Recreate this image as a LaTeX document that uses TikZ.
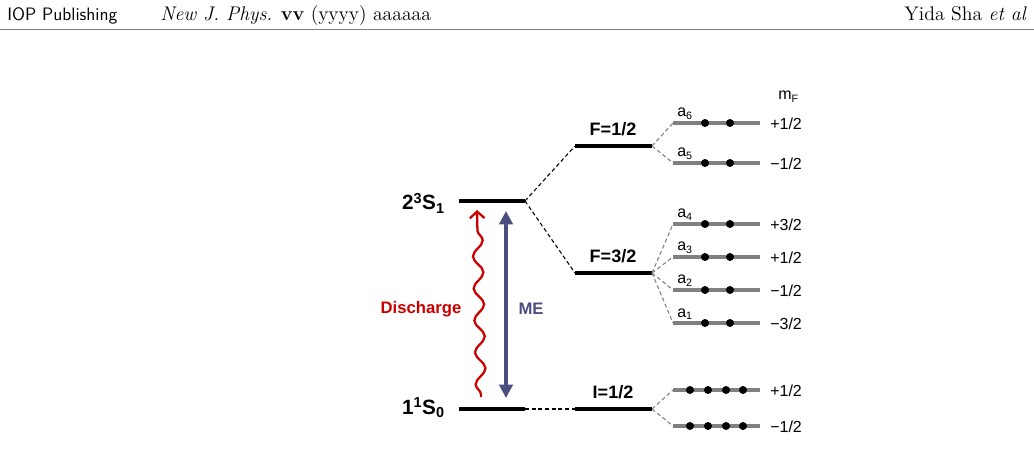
\documentclass[tikz,border=0pt]{standalone}
\usepackage{fontspec}
\newfontfamily\arial{Liberation Sans}
\usepackage{xcolor}
\usetikzlibrary{arrows.meta, positioning, decorations.pathmorphing}

\definecolor{dischred}{RGB}{204,0,0}
\definecolor{mecol}{RGB}{76,78,128}

\begin{document}
\begin{tikzpicture}[x=0.75pt, y=-0.75pt,
      level/.style={line width=3pt},
      sub/.style={line width=2.5pt, gray},
      link/.style={dash pattern=on 3pt off 2pt, line width=0.8pt},
      glink/.style={link, gray},
      atom/.style={circle, fill, inner sep=0pt, minimum size=6pt},
      term/.style={font=\arial\bfseries\fontsize{15.5}{18}\selectfont,
                   anchor=base east, inner sep=0pt},
      hfs/.style={font=\arial\bfseries\fontsize{13.5}{16}\selectfont,
                  anchor=base, inner sep=0pt},
      small/.style={font=\arial\fontsize{12}{14}\selectfont, inner sep=0pt},
      head/.style={font=\fontsize{14.8}{17}\selectfont, inner sep=0pt}
    ]
    \useasboundingbox (0,0) rectangle (1034,466);

    % running head
    \node[head, anchor=base west] (pub) at (7,21)
      {\sffamily\fontsize{13.5}{16}\selectfont IOP Publishing};
    \node[head, anchor=base west] (jour) at (160,21)
      {\textit{New J. Phys.} \textbf{vv} (yyyy) aaaaaa};
    \node[head, anchor=base east] (auth) at (1027,21) {Yida Sha \textit{et al}};
    \draw[gray, line width=0.5pt] (0,29) -- (1034,29);

    % fine structure levels
    \coordinate (tripL) at (459,201);
    \coordinate (tripR) at (525,201);
    \coordinate (gndL) at (459,409);
    \coordinate (gndR) at (525,409);
    \coordinate (fhalfL) at (575,146);
    \coordinate (fhalfR) at (652,146);
    \coordinate (fthreeL) at (575,273);
    \coordinate (fthreeR) at (652,273);
    \coordinate (ihalfL) at (575,409);
    \coordinate (ihalfR) at (652,409);

    \draw[level] (tripL) -- (tripR);
    \draw[level] (gndL) -- (gndR);
    \draw[level] (fhalfL) -- (fhalfR);
    \draw[level] (fthreeL) -- (fthreeR);
    \draw[level] (ihalfL) -- (ihalfR);

    \draw[link] (tripR) -- (fhalfL);
    \draw[link] (tripR) -- (fthreeL);
    \draw[link] (gndR) -- (ihalfL);

    \node[term] (trip) at (445,210) {2\textsuperscript{3}S\textsubscript{1}};
    \node[term] (gnd) at (445,414) {1\textsuperscript{1}S\textsubscript{0}};
    \node[hfs] (fhalf) at (613,136) {F=1/2};
    \node[hfs] (fthree) at (613,263) {F=3/2};
    \node[hfs] (ihalf) at (613,398) {I=1/2};

    % excitation
    \coordinate (dBot) at (481,397);
    \coordinate (dTop) at (477,210);
    \draw[dischred, line width=1.7pt, -{Straight Barb[length=5pt, width=11pt]},
          decorate, decoration={snake, amplitude=3.8pt, segment length=24pt,
                                pre length=2pt, post length=5pt}]
      (dBot) -- (dTop);
    \node[font=\arial\bfseries\fontsize{12.5}{15}\selectfont, text=dischred]
      (dis) at (421,309) {Discharge};

    \coordinate (meTop) at (506,211);
    \coordinate (meBot) at (506,398);
    \draw[mecol, line width=2.3pt,
          {Triangle[length=10pt, width=10pt]}-{Triangle[length=10pt, width=10pt]}]
      (meBot) -- (meTop);
    \node[font=\arial\bfseries\fontsize{12.5}{15}\selectfont, text=mecol]
      (me) at (531,309) {ME};

    % magnetic sublevels
    \node[small, anchor=base west] (mf) at (778,100) {m\textsubscript{F}};
    \foreach \n/\y/\m/\src in {6/123/{+1/2}/fhalfR, 5/163/{−1/2}/fhalfR,
                              4/224/{+3/2}/fthreeR, 3/257/{+1/2}/fthreeR,
                              2/290/{−1/2}/fthreeR, 1/323/{−3/2}/fthreeR} {
      \coordinate (aL\n) at (673,\y);
      \coordinate (aR\n) at (760,\y);
      \draw[glink] (\src) -- (aL\n);
      \draw[sub] (aL\n) -- (aR\n);
      \node[atom] (aP\n) at (705,\y) {};
      \node[atom] (aQ\n) at (730,\y) {};
      \node[small, anchor=base west] (a\n) at (677,\y-6) {a\textsubscript{\n}};
      \node[small, anchor=west] (m\n) at (770,\y+1) {\m};
    }
    \foreach \n/\y/\m in {1/390/{+1/2}, 2/426/{−1/2}} {
      \coordinate (gL\n) at (673,\y);
      \coordinate (gR\n) at (760,\y);
      \draw[glink] (ihalfR) -- (gL\n);
      \draw[sub] (gL\n) -- (gR\n);
      \foreach \x in {690,708,726,743}
        \node[atom] at (\x,\y) {};
      \node[small, anchor=west] (gm\n) at (770,\y+1) {\m};
    }
  \end{tikzpicture}
\end{document}
